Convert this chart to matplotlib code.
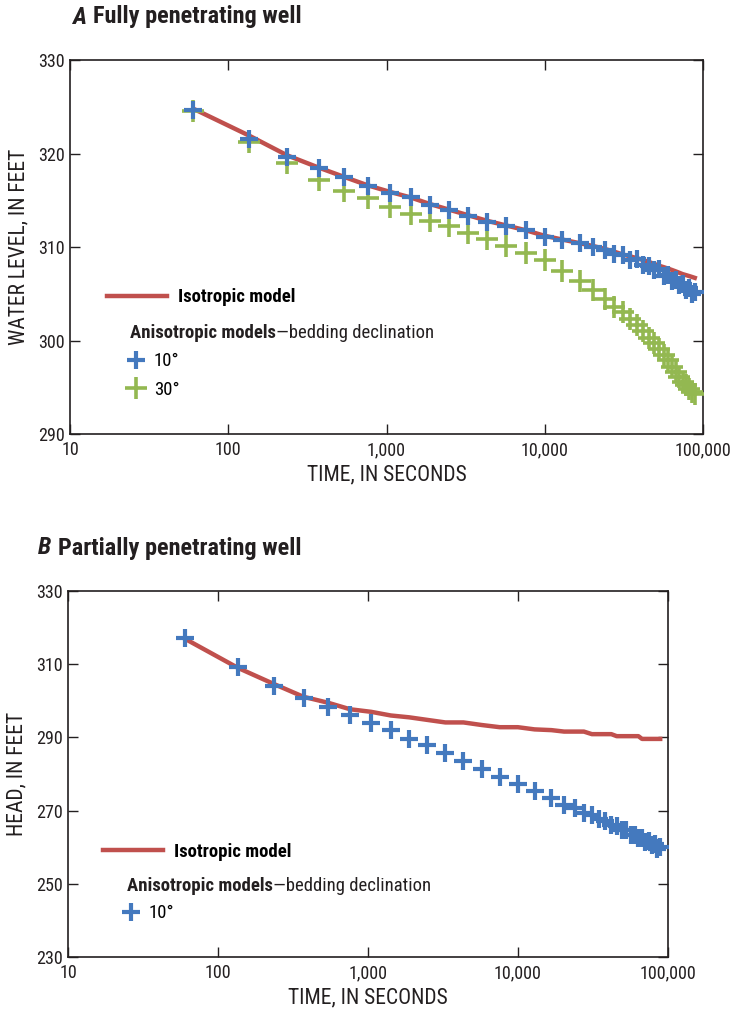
import matplotlib
matplotlib.use('Agg')
import matplotlib.pyplot as plt
from matplotlib import font_manager
from matplotlib.lines import Line2D

# pick a narrow sans face if one is installed
installed = {f.name for f in font_manager.fontManager.ttflist}
for fam in ['Liberation Sans Narrow', 'DejaVu Sans Condensed', 'Roboto Condensed',
            'Noto Sans Condensed', 'Open Sans Condensed', 'Liberation Sans']:
    if fam in installed:
        break
NARROW = fam != 'Liberation Sans'
plt.rcParams['font.family'] = [fam, 'DejaVu Sans']

# model output times, shared by both panels
time_s = [60, 136, 236, 372, 540, 760, 1050, 1420, 1880, 2480, 3280, 4330,
          5720, 7560, 9980, 12900, 16700, 20300, 23900, 27500, 31100, 34700,
          38300, 41900, 45500, 49100, 52700, 56300, 59900, 63500, 67100,
          70700, 74300, 77900, 81500, 85100, 88700]

# A - fully penetrating well (water level, ft)
full_iso = [324.8, 321.9, 319.8, 318.5, 317.5, 316.6, 315.9, 315.3, 314.6, 314.0,
            313.4, 312.8, 312.3, 311.8, 311.2, 310.8, 310.4, 310.1, 309.8, 309.5,
            309.2, 309.0, 308.8, 308.6, 308.4, 308.2, 308.0, 307.85, 307.7, 307.55,
            307.4, 307.25, 307.1, 307.0, 306.9, 306.8, 306.7]
full_10 = [324.7, 321.6, 319.6, 318.4, 317.45, 316.5, 315.8, 315.3, 314.5, 314.0,
           313.3, 312.7, 312.2, 311.8, 311.1, 310.8, 310.4, 310.0, 309.7, 309.2,
           309.1, 308.6, 308.7, 308.1, 308.0, 307.5, 307.6, 306.9, 307.0, 306.4,
           306.5, 305.9, 306.0, 305.4, 305.6, 305.0, 305.2]
full_30 = [324.5, 321.2, 318.95, 317.2, 316.0, 315.2, 314.25, 313.5, 312.8, 312.25,
           311.5, 310.9, 310.1, 309.4, 308.6, 307.4, 306.4, 305.4, 304.4, 303.6,
           303.0, 302.3, 301.7, 301.0, 300.3, 299.7, 299.1, 298.5, 297.9, 297.2,
           296.6, 296.1, 295.6, 295.2, 294.8, 294.5, 294.3]

# B - partially penetrating well (head, ft)
part_iso = [317.0, 309.0, 304.6, 301.1, 299.5, 297.7, 297.0, 296.0, 295.5, 294.8,
            294.1, 294.1, 293.4, 292.8, 292.8, 292.2, 292.0, 291.6, 291.6, 291.6,
            290.9, 290.9, 290.9, 290.9, 290.35, 290.35, 290.35, 290.35, 290.35,
            290.35, 289.6, 289.6, 289.6, 289.6, 289.6, 289.6, 289.6]
part_10 = [317.1, 309.15, 304.0, 300.8, 298.4, 296.1, 294.0, 292.0, 289.6, 287.8,
           285.8, 283.6, 281.3, 279.2, 277.3, 275.4, 273.4, 271.6, 270.6, 269.4,
           268.8, 267.6, 267.3, 266.1, 265.9, 264.8, 264.6, 263.4, 263.3, 262.4,
           262.5, 261.5, 261.6, 260.6, 260.8, 259.6, 260.1]

x_ticks = [10, 100, 1000, 10000, 100000]
x_labels = ['10', '100', '1,000', '10,000', '100,000']

RED = '#C0504D'
BLUE = '#4479BE'
GREEN = '#93B851'
INK = '#231F20'

FS = 13 if NARROW else 11       # ticks
FG = 13.5 if NARROW else 11     # legend
FL = 15.5 if NARROW else 12     # axis labels
FT = 17.5 if NARROW else 14     # panel titles


def style_axes(ax, yticks):
    ax.set_xscale('log')
    ax.set_xlim(10, 100000)
    ax.set_xticks(x_ticks)
    ax.set_xticklabels(x_labels)
    ax.minorticks_off()
    ax.set_yticks(yticks)
    ax.set_ylim(yticks[0], yticks[-1])
    ax.tick_params(direction='in', length=7, width=1, top=True, right=True,
                   labelsize=FS, colors=INK, pad=4)
    ax.tick_params(axis='x', pad=5)
    for s in ax.spines.values():
        s.set_color(INK)
        s.set_linewidth(1.2)
    ax.set_xlabel('TIME, IN SECONDS', fontsize=FL, color=INK, labelpad=4)


def add_legend(ax, series, line_xy, head_xy, mark_xy):
    iso = Line2D([], [], color=RED, lw=3.2)
    leg1 = ax.legend([iso], ['Isotropic model'], loc='center left',
                     bbox_to_anchor=line_xy, frameon=False, handlelength=3.2,
                     handletextpad=0.6, borderpad=0, borderaxespad=0,
                     prop={'weight': 'bold', 'size': FG})
    ax.add_artist(leg1)
    head = ax.text(head_xy[0], head_xy[1], 'Anisotropic models', transform=ax.transAxes,
                   fontsize=FG, fontweight='bold', va='center', color=INK)
    ax.annotate('\u2014bedding declination', xy=(1, 0), xycoords=head,
                va='bottom', ha='left', fontsize=FG, color=INK)
    handles = [Line2D([], [], ls='none', marker='+', color=c, ms=ms, mew=mw)
               for c, ms, mw in series]
    labels = ['10\u00b0', '30\u00b0'][:len(series)]
    ax.legend(handles, labels, loc='center left', bbox_to_anchor=mark_xy,
              frameon=False, handlelength=0.9, handletextpad=0.5,
              labelspacing=0.55, borderpad=0, borderaxespad=0,
              prop={'size': FG})


fig = plt.figure(figsize=(7.31, 10.14), dpi=100)

# panel A
ax1 = fig.add_axes([0.0958, 0.5720, 0.8659, 0.3688])
ax1.plot(time_s, full_iso, color=RED, lw=3.2, zorder=2)
ax1.plot(time_s, full_30, ls='none', marker='+', color=GREEN, ms=16, mew=2.6, zorder=3)
ax1.plot(time_s, full_10, ls='none', marker='+', color=BLUE, ms=13, mew=3.0, zorder=4)
style_axes(ax1, [290, 300, 310, 320, 330])
ax1.set_ylabel('WATER LEVEL, IN FEET', fontsize=FL, color=INK, labelpad=6)
add_legend(ax1, [(BLUE, 13, 3.0), (GREEN, 16, 2.6)],
           (0.058, 0.366), (0.095, 0.270), (0.091, 0.156))

# panel B
ax2 = fig.add_axes([0.0930, 0.0562, 0.8208, 0.3609])
ax2.plot(time_s, part_iso, color=RED, lw=3.2, zorder=2)
ax2.plot(time_s, part_10, ls='none', marker='+', color=BLUE, ms=13, mew=3.0, zorder=4)
style_axes(ax2, [230, 250, 270, 290, 310, 330])
ax2.set_ylabel('HEAD, IN FEET', fontsize=FL, color=INK, labelpad=6)
add_legend(ax2, [(BLUE, 13, 3.0)],
           (0.058, 0.287), (0.098, 0.194), (0.091, 0.120))

# panel titles
ta = fig.text(72 / 731, 1 - 17 / 1014, 'A', fontsize=FT, fontweight='bold',
              fontstyle='italic', va='center', color=INK)
ax1.annotate('Fully penetrating well', xy=(1, 0), xycoords=ta, xytext=(5, 0),
             textcoords='offset points', va='bottom', fontsize=FT,
             fontweight='bold', color=INK, annotation_clip=False)
tb = fig.text(38 / 731, 1 - 548 / 1014, 'B', fontsize=FT, fontweight='bold',
              fontstyle='italic', va='center', color=INK)
ax2.annotate('Partially penetrating well', xy=(1, 0), xycoords=tb, xytext=(5, 0),
             textcoords='offset points', va='bottom', fontsize=FT,
             fontweight='bold', color=INK, annotation_clip=False)

fig.savefig('out.png', dpi=100)
